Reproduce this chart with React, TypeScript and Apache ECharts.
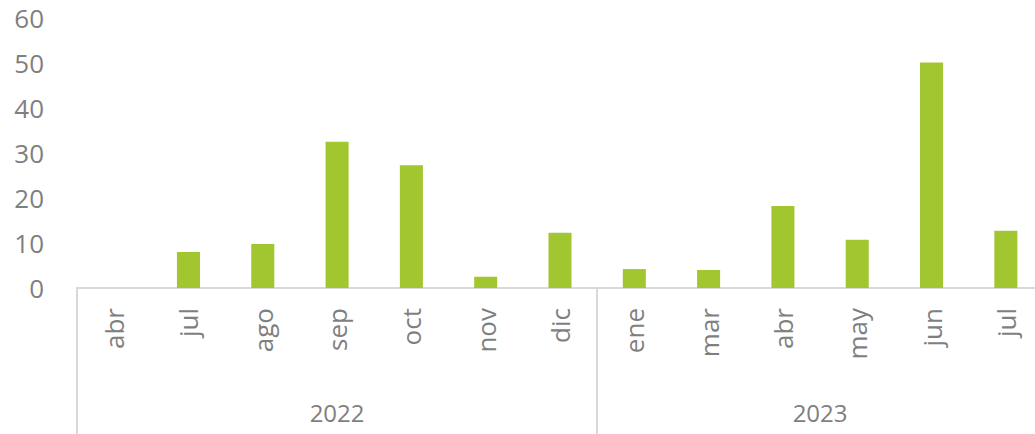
import React, { useEffect, useRef } from "react";
import * as echarts from "echarts";

const months = ["abr", "jul", "ago", "sep", "oct", "nov", "dic", "ene", "mar", "abr", "may", "jun", "jul"];
const values = [0, 8.0, 9.8, 32.5, 27.3, 2.5, 12.3, 4.2, 4.0, 18.2, 10.7, 50.1, 12.7];
const years = ["2022", "2023"];
const yearCounts = [7, 6];
const yTicks = [0, 10, 20, 30, 40, 50, 60];

const FONT = "'Open Sans', sans-serif";
const TEXT = "#7f7f7f";
const LINE = "#d9d9d9";
const BAR = "#a1c630";

export default function App() {
  const ref = useRef<HTMLDivElement>(null);
  useEffect(() => {
    if (!ref.current) return;
    const chart = echarts.init(ref.current, undefined, { renderer: "svg" });
    const bounds: number[] = [0];
    yearCounts.forEach((c) => bounds.push(bounds[bounds.length - 1] + c));
    const centers = yearCounts.map((c, i) => bounds[i] + c / 2);
    chart.setOption({
      animation: false,
      textStyle: { fontFamily: FONT },
      grid: { left: 77, right: 0, top: 18, bottom: 146, containLabel: false },
      xAxis: [
        {
          type: "category",
          data: months,
          position: "bottom",
          axisLine: { show: true, lineStyle: { color: LINE, width: 2 } },
          axisTick: { show: false },
          axisLabel: {
            rotate: 90,
            interval: 0,
            margin: 20,
            color: TEXT,
            fontSize: 26,
            fontFamily: FONT,
          },
        },
        {
          type: "value",
          min: 0,
          max: bounds[bounds.length - 1],
          position: "bottom",
          splitLine: { show: false },
          axisLine: { show: false },
          axisTick: {
            show: true,
            customValues: bounds,
            length: 150,
            lineStyle: { color: LINE, width: 2 },
          },
          axisLabel: {
            customValues: centers,
            margin: 112,
            color: TEXT,
            fontSize: 24,
            fontFamily: FONT,
            formatter: (v: number) => {
              const i = centers.findIndex((c) => Math.abs(c - v) < 1e-6);
              return i >= 0 ? years[i] : "";
            },
          },
        },
      ],
      yAxis: {
        type: "value",
        min: yTicks[0],
        max: yTicks[yTicks.length - 1],
        interval: 10,
        axisLine: { show: false },
        axisTick: { show: false },
        splitLine: { show: false },
        axisLabel: { margin: 33, color: TEXT, fontSize: 26, fontFamily: FONT },
      },
      series: [
        {
          type: "bar",
          data: values,
          xAxisIndex: 0,
          barWidth: "31%",
          itemStyle: { color: BAR },
        },
      ],
    });
    return () => chart.dispose();
  }, []);
  return (
    <div style={{ position: "absolute", left: 0, top: 0, width: 1035, height: 434, overflow: "hidden", background: "#fff" }}>
      <div ref={ref} style={{ width: 1043, height: 434 }} />
    </div>
  );
}
